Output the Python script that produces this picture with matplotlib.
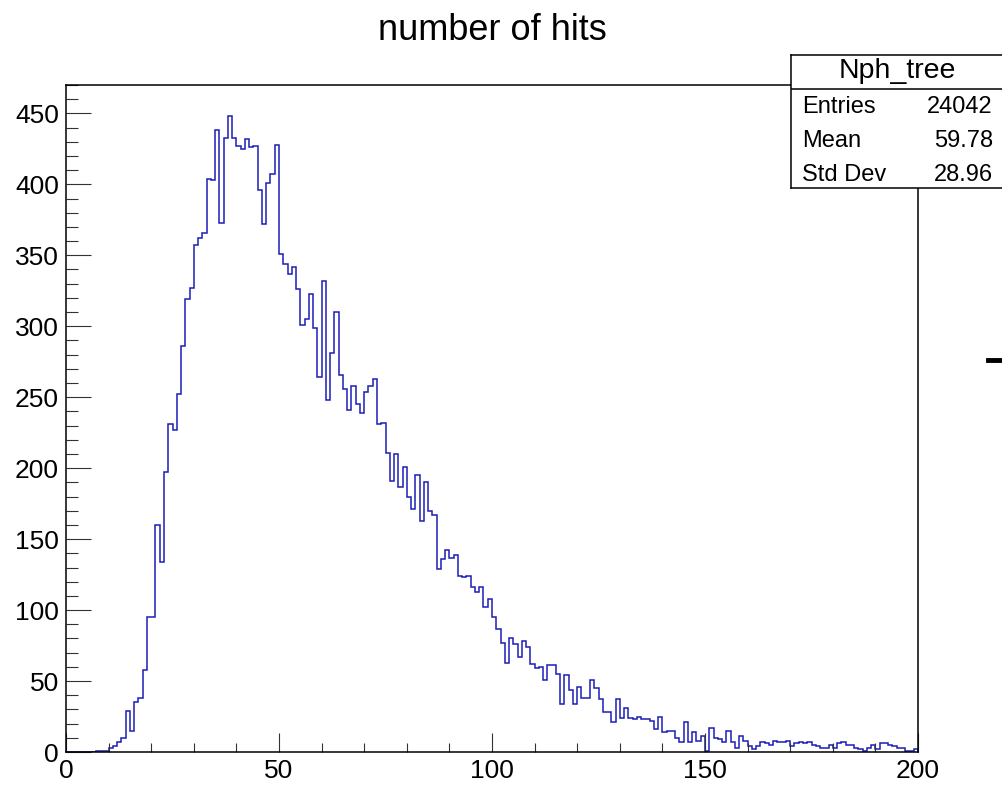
import matplotlib
matplotlib.use('Agg')
import matplotlib.pyplot as plt
from matplotlib.ticker import MultipleLocator
from matplotlib.lines import Line2D
import numpy as np

plt.rcParams['font.family'] = ['Liberation Sans', 'DejaVu Sans']

# histogram of Nph_tree, 200 bins of width 1 from 0 to 200
bin_edges = np.arange(0, 201, 1)
counts = [
    0, 0, 0, 0, 0, 0, 0, 1, 1, 1,
    3, 4, 7, 10, 29, 15, 35, 38, 58, 95,
    95, 160, 134, 197, 231, 227, 252, 286, 319, 327,
    357, 362, 366, 404, 403, 438, 373, 433, 448, 433,
    427, 425, 432, 426, 427, 396, 372, 401, 407, 428,
    351, 344, 337, 342, 326, 301, 305, 323, 299, 264,
    332, 248, 281, 310, 266, 256, 241, 258, 245, 239,
    254, 258, 263, 231, 232, 211, 191, 210, 187, 201,
    180, 171, 195, 163, 190, 170, 167, 129, 136, 142,
    137, 139, 124, 123, 124, 116, 113, 116, 102, 108,
    95, 87, 77, 63, 80, 76, 67, 78, 74, 62,
    59, 60, 51, 61, 61, 55, 34, 54, 44, 34,
    46, 38, 38, 51, 45, 37, 28, 28, 21, 37,
    24, 31, 24, 23, 25, 23, 23, 22, 16, 25,
    14, 15, 15, 10, 7, 21, 7, 14, 8, 11,
    1, 17, 10, 9, 7, 15, 7, 3, 11, 8,
    4, 2, 4, 7, 6, 5, 8, 7, 7, 8,
    4, 6, 7, 6, 7, 5, 4, 3, 3, 5,
    3, 6, 7, 5, 5, 3, 2, 1, 3, 5,
    2, 6, 6, 5, 4, 3, 3, 1, 1, 2,
]

stat_names = ['Entries', 'Mean', 'Std Dev']
stat_values = ['24042', '59.78', '28.96']
hist_name = 'Nph_tree'
title = 'number of hits'

W, H = 1002, 785
fig = plt.figure(figsize=(W / 100, H / 100), dpi=100)
ax = fig.add_axes([66 / W, 1 - 752 / H, 852 / W, (752 - 85) / H])

ax.stairs(counts, bin_edges, color='#1c1cb8', lw=1.1)

ax.set_xlim(0, 200)
ax.set_ylim(0, 470)
ax.xaxis.set_major_locator(MultipleLocator(50))
ax.xaxis.set_minor_locator(MultipleLocator(10))
ax.yaxis.set_major_locator(MultipleLocator(50))
ax.yaxis.set_minor_locator(MultipleLocator(10))
ax.tick_params(which='both', direction='in', top=False, right=False,
               labelsize=19, width=0.8, color='#333333')
ax.tick_params(axis='y', which='major', length=18, pad=5)
ax.tick_params(axis='y', which='minor', length=8.6)
ax.tick_params(axis='x', which='major', length=13.7, pad=5)
ax.tick_params(axis='x', which='minor', length=6.5)
for s in ax.spines.values():
    s.set_linewidth(1.1)

fig.text(492 / W, 1 - 31 / H, title, ha='center', va='center', fontsize=26)

# stats box (ROOT style), runs off the right edge
box = fig.add_axes([791 / W, 1 - 188 / H, (1012 - 791) / W, (188 - 55) / H])
box.set_xlim(791, 1012)
box.set_ylim(188, 55)
box.set_xticks([])
box.set_yticks([])
box.set_facecolor('white')
for s in box.spines.values():
    s.set_linewidth(1.1)
box.axhline(89, color='black', lw=1.1)
box.text(897, 71, hist_name, ha='center', va='center', fontsize=20.5)
for i, (nm, val) in enumerate(zip(stat_names, stat_values)):
    y = 107 + 34 * i
    box.text(802, y, nm, ha='left', va='center', fontsize=17)
    box.text(993, y, val, ha='right', va='center', fontsize=17)

fig.add_artist(Line2D([988 / W, 1.0], [1 - 360 / H] * 2, color='black', lw=3.5))

fig.savefig('out.png', dpi=100)
